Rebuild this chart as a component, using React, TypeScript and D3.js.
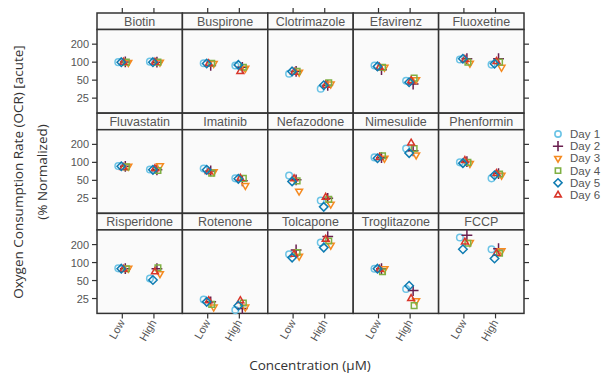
import * as d3 from "d3";

// drugs in facet order (row by row)
const drugs = [
  "Biotin", "Buspirone", "Clotrimazole", "Efavirenz", "Fluoxetine",
  "Fluvastatin", "Imatinib", "Nefazodone", "Nimesulide", "Phenformin",
  "Risperidone", "Rotenone", "Tolcapone", "Troglitazone", "FCCP",
];
const concentrations = ["Low", "High"];
const days = ["Day 1", "Day 2", "Day 3", "Day 4", "Day 5", "Day 6"];
const yTicks = [25, 50, 100, 200];

// OCR (% normalized), one value per drug, per day
const day1Low = [100, 96, 64, 88, 111, 87, 79, 60, 121, 100, 80, 24, 138, 79, 262];
const day1High = [102, 88, 36, 49, 91, 76, 54, 23, 171, 54, 54, 16, 216, 36, 167];
const day2Low = [101, 88, 70, 75, 114, 86, 72, 51, 120, 103, 79, 22, 163, 79, 287];
const day2High = [100, 82, 41, 43, 114, 75, 49, 25, 156, 65, 79, 17, 272, 34, 171];
const day3Low = [99, 95, 68, 82, 96, 86, 70, 33, 117, 96, 80, 18, 128, 79, 216];
const day3High = [100, 79, 43, 51, 82, 88, 41, 20, 133, 61, 65, 18, 195, 23, 157];
const day4Low = [100, 96, 70, 82, 100, 84, 66, 49, 129, 100, 79, 20, 147, 70, 210];
const day4High = [100, 82, 45, 54, 100, 73, 54, 24, 171, 64, 82, 21, 230, 19, 143];
const day5Low = [100, 95, 70, 85, 114, 86, 75, 48, 117, 97, 79, 22, 121, 79, 167];
const day5High = [100, 90, 41, 46, 94, 75, 53, 18, 143, 61, 51, 19, 178, 41, 117];
const day6Low = [100, 94, 68, 82, 111, 82, 70, 53, 121, 107, 77, 23, 138, 77, 221];
const day6High = [100, 70, 41, 49, 103, 78, 54, 26, 210, 65, 70, 23, 245, 25, 143];

const lowByDay = [day1Low, day2Low, day3Low, day4Low, day5Low, day6Low];
const highByDay = [day1High, day2High, day3High, day4High, day5High, day6High];

const dayStyle = [
  { color: "#6cc4e6", type: d3.symbolCircle, rot: 0, size: 34, dodge: -4 },
  { color: "#6a1f4f", type: d3.symbolPlus, rot: 0, size: 40, dodge: 3 },
  { color: "#f58a20", type: d3.symbolTriangle2, rot: 180, size: 34, dodge: 6 },
  { color: "#7fb043", type: d3.symbolSquare2, rot: 0, size: 40, dodge: 4 },
  { color: "#0f7cb2", type: d3.symbolDiamond2, rot: 0, size: 46, dodge: -1 },
  { color: "#d9362a", type: d3.symbolTriangle2, rot: 0, size: 34, dodge: 1 },
];
const drawOrder = [0, 1, 2, 3, 5, 4];

const W = 608, H = 375;
const left = 97, top = 13;
const colW = 85.4, stripH = 16.5, panelH = 83.5, rowH = 100.2;
const nCol = 5, nRow = 3;
const font = "'Liberation Sans', Arial, sans-serif";
const titleFont = "'Open Sans', sans-serif";

const App = () => {
  const x = d3.scaleLinear().domain([0.2, 2.9]).range([0, colW]);
  const y = d3.scaleLog().domain([14.1, 352]).range([panelH, 0]);
  const right = left + colW * nCol;
  const bottom = top + rowH * (nRow - 1) + stripH + panelH;

  const panels = drugs.map((drug, i) => {
    const c = i % nCol, r = Math.floor(i / nCol);
    const px = left + c * colW;
    const sy = top + r * rowH;
    const py = sy + stripH;
    const marks = [];
    drawOrder.forEach(d => {
      const st = dayStyle[d];
      const path = d3.symbol(st.type, st.size)();
      [lowByDay[d][i], highByDay[d][i]].forEach((v, k) => {
        const cx = x(k + 1) + st.dodge;
        const cy = y(v);
        marks.push(
          <path key={`${d}-${k}`} d={path}
            transform={`translate(${cx},${cy}) rotate(${st.rot})`}
            fill="none" stroke={st.color} strokeWidth={1.5} />
        );
      });
    });
    return (
      <g key={drug}>
        <rect x={px} y={sy} width={colW} height={stripH} fill="#fafafa" stroke="#333" strokeWidth={1.5} />
        <text x={px + colW / 2} y={sy + stripH / 2 + 4.5} textAnchor="middle"
          fontSize={12.5} fill="#555" fontFamily={font}>{drug}</text>
        <rect x={px} y={py} width={colW} height={panelH} fill="#fafafa" stroke="#333" strokeWidth={1.5} />
        <g transform={`translate(${px},${py})`}>{marks}</g>
      </g>
    );
  });

  const axes = [];
  for (let r = 0; r < nRow; r++) {
    const py = top + r * rowH + stripH;
    yTicks.forEach(t => {
      const ty = py + y(t);
      axes.push(<line key={`yl${r}${t}`} x1={left - 5} x2={left} y1={ty} y2={ty} stroke="#333" strokeWidth={1.2} />);
      axes.push(<line key={`yr${r}${t}`} x1={right} x2={right + 5} y1={ty} y2={ty} stroke="#333" strokeWidth={1.2} />);
      axes.push(
        <text key={`yt${r}${t}`} x={left - 8} y={ty + 4} textAnchor="end"
          fontSize={11} fill="#555" fontFamily={font}>{t}</text>
      );
    });
  }
  for (let c = 0; c < nCol; c++) {
    const px = left + c * colW;
    concentrations.forEach((lab, k) => {
      const tx = px + x(k + 1);
      axes.push(<line key={`xt${c}${k}`} x1={tx} x2={tx} y1={top - 5} y2={top} stroke="#333" strokeWidth={1.2} />);
      axes.push(<line key={`xb${c}${k}`} x1={tx} x2={tx} y1={bottom} y2={bottom + 5} stroke="#333" strokeWidth={1.2} />);
      axes.push(
        <text key={`xl${c}${k}`} transform={`translate(${tx + 3},${bottom + 9}) rotate(-60)`}
          textAnchor="end" fontSize={11} fill="#555" fontFamily={font}>{lab}</text>
      );
    });
  }

  const legend = days.map((day, d) => {
    const st = dayStyle[d];
    const ly = 134 + d * 12.2;
    return (
      <g key={day}>
        <path d={d3.symbol(st.type, st.size * 0.9)()} transform={`translate(558,${ly}) rotate(${st.rot})`}
          fill="none" stroke={st.color} strokeWidth={1.6} />
        <text x={570} y={ly + 4} fontSize={11.5} fill="#555" fontFamily={font}>{day}</text>
      </g>
    );
  });

  return (
    <svg width={W} height={H} style={{ position: "absolute", left: 0, top: 0, background: "#fff" }}>
      {panels}
      {axes}
      {legend}
      <text transform="translate(23,172) rotate(-90)" textAnchor="middle" fontSize={13.5}
        fill="#333" fontFamily={titleFont}>Oxygen Consumption Rate (OCR) [acute]</text>
      <text transform="translate(47,172) rotate(-90)" textAnchor="middle" fontSize={13.5}
        fill="#333" fontFamily={titleFont}>(% Normalized)</text>
      <text x={310} y={370} textAnchor="middle" fontSize={13.5} fill="#333"
        fontFamily={titleFont}>Concentration (µM)</text>
    </svg>
  );
};

export default App;
